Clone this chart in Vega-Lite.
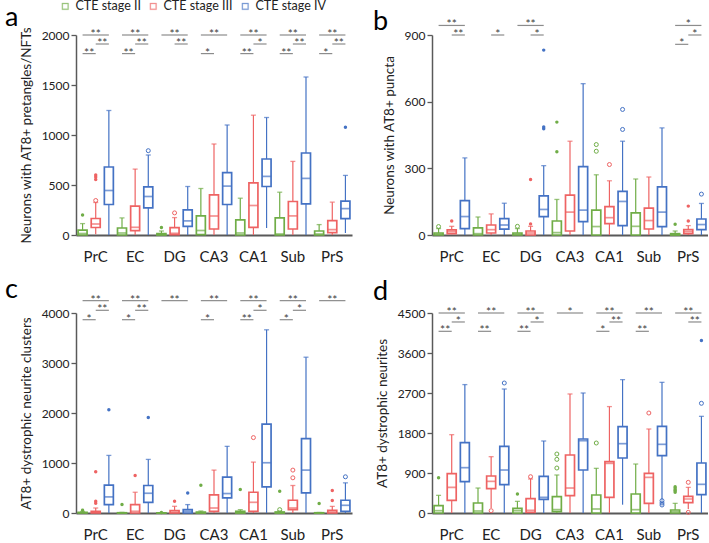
{
"$schema": "https://vega.github.io/schema/vega-lite/v6.json",
"padding": {"left": 5, "top": 0, "right": 0, "bottom": 0},
"bounds": "flush",
"columns": 2,
"spacing": {"row": 78, "column": 80},
"resolve": {"scale": {"stroke": "independent", "color": "independent"}, "legend": {"stroke": "independent", "color": "independent"}},
"config": {
  "font": "Lato",
  "view": {"stroke": null},
  "axisY": {"domainColor": "#595959", "domainWidth": 1.5, "tickColor": "#595959", "tickSize": 5, "tickWidth": 1.3, "labelFontSize": 12, "labelColor": "#222222", "titleFontSize": 13.5, "titleFontWeight": "normal", "titleColor": "#222222", "grid": false, "titlePadding": 8, "labelOverlap": false, "format": "d", "tickCount": 12},
  "axisX": {"domainColor": "#595959", "domainWidth": 2, "ticks": false, "labelFontSize": 15, "labelPadding": 14, "labelAngle": 0, "labelColor": "#222222", "grid": false, "labelOverlap": false},
  "title": {"fontSize": 27, "fontWeight": "normal", "anchor": "start", "frame": "group", "color": "#000000", "baseline": "alphabetic"}
},
"datasets": {
"boxes": [
{"p":"a","g":"PrC|II","s":"II","lo":0,"q1":0,"md":15,"q3":48,"hi":114},
{"p":"a","g":"PrC|III","s":"III","lo":8,"q1":75,"md":110,"q3":165,"hi":325},
{"p":"a","g":"PrC|IV","s":"IV","lo":0,"q1":305,"md":445,"q3":680,"hi":1245},
{"p":"a","g":"EC|II","s":"II","lo":0,"q1":0,"md":20,"q3":70,"hi":171},
{"p":"a","g":"EC|III","s":"III","lo":0,"q1":43,"md":77,"q3":288,"hi":659},
{"p":"a","g":"EC|IV","s":"IV","lo":0,"q1":272,"md":385,"q3":482,"hi":800},
{"p":"a","g":"DG|II","s":"II","lo":0,"q1":0,"md":3,"q3":14,"hi":40},
{"p":"a","g":"DG|III","s":"III","lo":0,"q1":3,"md":17,"q3":74,"hi":174},
{"p":"a","g":"DG|IV","s":"IV","lo":0,"q1":87,"md":141,"q3":251,"hi":485},
{"p":"a","g":"CA3|II","s":"II","lo":0,"q1":3,"md":45,"q3":191,"hi":465},
{"p":"a","g":"CA3|III","s":"III","lo":0,"q1":60,"md":190,"q3":402,"hi":910},
{"p":"a","g":"CA3|IV","s":"IV","lo":0,"q1":305,"md":489,"q3":623,"hi":1100},
{"p":"a","g":"CA1|II","s":"II","lo":0,"q1":0,"md":20,"q3":151,"hi":368},
{"p":"a","g":"CA1|III","s":"III","lo":0,"q1":77,"md":295,"q3":522,"hi":1198},
{"p":"a","g":"CA1|IV","s":"IV","lo":70,"q1":485,"md":586,"q3":760,"hi":1175},
{"p":"a","g":"Sub|II","s":"II","lo":0,"q1":0,"md":10,"q3":171,"hi":428},
{"p":"a","g":"Sub|III","s":"III","lo":0,"q1":60,"md":191,"q3":335,"hi":736},
{"p":"a","g":"Sub|IV","s":"IV","lo":0,"q1":311,"md":566,"q3":820,"hi":1580},
{"p":"a","g":"PrS|II","s":"II","lo":0,"q1":0,"md":10,"q3":40,"hi":104},
{"p":"a","g":"PrS|III","s":"III","lo":0,"q1":23,"md":54,"q3":144,"hi":328},
{"p":"a","g":"PrS|IV","s":"IV","lo":20,"q1":164,"md":264,"q3":338,"hi":596},
{"p":"b","g":"PrC|II","s":"II","lo":0,"q1":0,"md":4,"q3":9,"hi":29},
{"p":"b","g":"PrC|III","s":"III","lo":3,"q1":6,"md":15,"q3":23,"hi":39},
{"p":"b","g":"PrC|IV","s":"IV","lo":0,"q1":29,"md":83,"q3":155,"hi":347},
{"p":"b","g":"EC|II","s":"II","lo":0,"q1":0,"md":6,"q3":32,"hi":81},
{"p":"b","g":"EC|III","s":"III","lo":0,"q1":9,"md":24,"q3":45,"hi":95},
{"p":"b","g":"EC|IV","s":"IV","lo":0,"q1":26,"md":45,"q3":74,"hi":143},
{"p":"b","g":"DG|II","s":"II","lo":0,"q1":0,"md":4,"q3":9,"hi":29},
{"p":"b","g":"DG|III","s":"III","lo":0,"q1":0,"md":9,"q3":18,"hi":39},
{"p":"b","g":"DG|IV","s":"IV","lo":0,"q1":83,"md":115,"q3":176,"hi":312},
{"p":"b","g":"CA3|II","s":"II","lo":0,"q1":0,"md":11,"q3":63,"hi":160},
{"p":"b","g":"CA3|III","s":"III","lo":0,"q1":18,"md":103,"q3":179,"hi":422},
{"p":"b","g":"CA3|IV","s":"IV","lo":0,"q1":60,"md":112,"q3":308,"hi":681},
{"p":"b","g":"CA1|II","s":"II","lo":0,"q1":0,"md":38,"q3":112,"hi":271},
{"p":"b","g":"CA1|III","s":"III","lo":0,"q1":51,"md":78,"q3":128,"hi":244},
{"p":"b","g":"CA1|IV","s":"IV","lo":0,"q1":42,"md":151,"q3":196,"hi":422},
{"p":"b","g":"Sub|II","s":"II","lo":0,"q1":0,"md":39,"q3":100,"hi":252},
{"p":"b","g":"Sub|III","s":"III","lo":0,"q1":27,"md":65,"q3":121,"hi":261},
{"p":"b","g":"Sub|IV","s":"IV","lo":0,"q1":38,"md":103,"q3":217,"hi":482},
{"p":"b","g":"PrS|II","s":"II","lo":0,"q1":0,"md":2,"q3":6,"hi":18},
{"p":"b","g":"PrS|III","s":"III","lo":0,"q1":6,"md":15,"q3":24,"hi":42},
{"p":"b","g":"PrS|IV","s":"IV","lo":0,"q1":24,"md":47,"q3":72,"hi":142},
{"p":"c","g":"PrC|II","s":"II","lo":0,"q1":0,"md":3,"q3":13,"hi":30},
{"p":"c","g":"PrC|III","s":"III","lo":0,"q1":0,"md":13,"q3":34,"hi":100},
{"p":"c","g":"PrC|IV","s":"IV","lo":0,"q1":168,"md":322,"q3":556,"hi":1152},
{"p":"c","g":"EC|II","s":"II","lo":0,"q1":0,"md":0,"q3":5,"hi":13},
{"p":"c","g":"EC|III","s":"III","lo":0,"q1":0,"md":34,"q3":168,"hi":415},
{"p":"c","g":"EC|IV","s":"IV","lo":0,"q1":214,"md":395,"q3":550,"hi":1072},
{"p":"c","g":"DG|II","s":"II","lo":0,"q1":0,"md":0,"q3":3,"hi":8},
{"p":"c","g":"DG|III","s":"III","lo":0,"q1":0,"md":13,"q3":47,"hi":134},
{"p":"c","g":"DG|IV","s":"IV","lo":0,"q1":0,"md":34,"q3":67,"hi":168},
{"p":"c","g":"CA3|II","s":"II","lo":0,"q1":0,"md":5,"q3":20,"hi":40},
{"p":"c","g":"CA3|III","s":"III","lo":0,"q1":34,"md":100,"q3":362,"hi":858},
{"p":"c","g":"CA3|IV","s":"IV","lo":0,"q1":302,"md":389,"q3":717,"hi":1333},
{"p":"c","g":"CA1|II","s":"II","lo":0,"q1":0,"md":10,"q3":34,"hi":67},
{"p":"c","g":"CA1|III","s":"III","lo":0,"q1":34,"md":214,"q3":415,"hi":1018},
{"p":"c","g":"CA1|IV","s":"IV","lo":0,"q1":523,"md":1005,"q3":1776,"hi":3664},
{"p":"c","g":"Sub|II","s":"II","lo":0,"q1":0,"md":5,"q3":20,"hi":40},
{"p":"c","g":"Sub|III","s":"III","lo":0,"q1":67,"md":100,"q3":255,"hi":550},
{"p":"c","g":"Sub|IV","s":"IV","lo":0,"q1":402,"md":858,"q3":1487,"hi":3116},
{"p":"c","g":"PrS|II","s":"II","lo":0,"q1":0,"md":0,"q3":5,"hi":10},
{"p":"c","g":"PrS|III","s":"III","lo":0,"q1":0,"md":20,"q3":54,"hi":134},
{"p":"c","g":"PrS|IV","s":"IV","lo":0,"q1":34,"md":154,"q3":255,"hi":603},
{"p":"d","g":"PrC|II","s":"II","lo":0,"q1":0,"md":52,"q3":165,"hi":397},
{"p":"d","g":"PrC|III","s":"III","lo":0,"q1":285,"md":577,"q3":885,"hi":1762},
{"p":"d","g":"PrC|IV","s":"IV","lo":0,"q1":705,"md":1020,"q3":1582,"hi":2889},
{"p":"d","g":"EC|II","s":"II","lo":0,"q1":0,"md":45,"q3":225,"hi":562},
{"p":"d","g":"EC|III","s":"III","lo":112,"q1":547,"md":712,"q3":832,"hi":1267},
{"p":"d","g":"EC|IV","s":"IV","lo":0,"q1":637,"md":967,"q3":1500,"hi":2790},
{"p":"d","g":"DG|II","s":"II","lo":0,"q1":0,"md":52,"q3":105,"hi":262},
{"p":"d","g":"DG|III","s":"III","lo":0,"q1":15,"md":60,"q3":322,"hi":765},
{"p":"d","g":"DG|IV","s":"IV","lo":0,"q1":307,"md":352,"q3":825,"hi":1620},
{"p":"d","g":"CA3|II","s":"II","lo":0,"q1":30,"md":75,"q3":367,"hi":855},
{"p":"d","g":"CA3|III","s":"III","lo":0,"q1":390,"md":562,"q3":1305,"hi":2678},
{"p":"d","g":"CA3|IV","s":"IV","lo":0,"q1":967,"md":1627,"q3":1665,"hi":2700},
{"p":"d","g":"CA1|II","s":"II","lo":0,"q1":0,"md":90,"q3":405,"hi":1005},
{"p":"d","g":"CA1|III","s":"III","lo":0,"q1":352,"md":1117,"q3":1155,"hi":2394},
{"p":"d","g":"CA1|IV","s":"IV","lo":187,"q1":1237,"md":1560,"q3":1942,"hi":3001},
{"p":"d","g":"Sub|II","s":"II","lo":0,"q1":0,"md":75,"q3":427,"hi":1102},
{"p":"d","g":"Sub|III","s":"III","lo":0,"q1":217,"md":802,"q3":892,"hi":1890},
{"p":"d","g":"Sub|IV","s":"IV","lo":300,"q1":1290,"md":1545,"q3":1950,"hi":2940},
{"p":"d","g":"PrS|II","s":"II","lo":0,"q1":0,"md":30,"q3":67,"hi":217},
{"p":"d","g":"PrS|III","s":"III","lo":90,"q1":232,"md":315,"q3":375,"hi":577},
{"p":"d","g":"PrS|IV","s":"IV","lo":0,"q1":412,"md":645,"q3":1125,"hi":2175}
],
"outliers": [
{"p":"a","g":"PrC|II","s":"II","v":200,"k":"f"},
{"p":"a","g":"PrC|III","s":"III","v":345,"k":"o"},
{"p":"a","g":"PrC|III","s":"III","v":556,"k":"f"},
{"p":"a","g":"PrC|III","s":"III","v":579,"k":"f"},
{"p":"a","g":"PrC|III","s":"III","v":600,"k":"f"},
{"p":"a","g":"EC|IV","s":"IV","v":843,"k":"o"},
{"p":"a","g":"DG|II","s":"II","v":74,"k":"f"},
{"p":"a","g":"DG|III","s":"III","v":221,"k":"o"},
{"p":"a","g":"PrS|IV","s":"IV","v":1077,"k":"f"},
{"p":"b","g":"PrC|II","s":"II","v":38,"k":"o"},
{"p":"b","g":"PrC|III","s":"III","v":63,"k":"f"},
{"p":"b","g":"DG|II","s":"II","v":39,"k":"o"},
{"p":"b","g":"DG|III","s":"III","v":50,"k":"f"},
{"p":"b","g":"DG|III","s":"III","v":250,"k":"f"},
{"p":"b","g":"DG|IV","s":"IV","v":478,"k":"f"},
{"p":"b","g":"DG|IV","s":"IV","v":486,"k":"f"},
{"p":"b","g":"DG|IV","s":"IV","v":832,"k":"f"},
{"p":"b","g":"CA3|II","s":"II","v":375,"k":"f"},
{"p":"b","g":"CA3|II","s":"II","v":508,"k":"f"},
{"p":"b","g":"CA1|II","s":"II","v":377,"k":"o"},
{"p":"b","g":"CA1|II","s":"II","v":407,"k":"o"},
{"p":"b","g":"CA1|III","s":"III","v":317,"k":"o"},
{"p":"b","g":"CA1|IV","s":"IV","v":475,"k":"o"},
{"p":"b","g":"CA1|IV","s":"IV","v":565,"k":"o"},
{"p":"b","g":"PrS|II","s":"II","v":48,"k":"f"},
{"p":"b","g":"PrS|III","s":"III","v":63,"k":"f"},
{"p":"b","g":"PrS|III","s":"III","v":130,"k":"f"},
{"p":"b","g":"PrS|IV","s":"IV","v":184,"k":"o"},
{"p":"c","g":"PrC|II","s":"II","v":54,"k":"f"},
{"p":"c","g":"PrC|III","s":"III","v":194,"k":"f"},
{"p":"c","g":"PrC|III","s":"III","v":235,"k":"f"},
{"p":"c","g":"PrC|III","s":"III","v":824,"k":"f"},
{"p":"c","g":"PrC|IV","s":"IV","v":2064,"k":"f"},
{"p":"c","g":"EC|II","s":"II","v":168,"k":"f"},
{"p":"c","g":"EC|III","s":"III","v":750,"k":"f"},
{"p":"c","g":"EC|IV","s":"IV","v":1910,"k":"f"},
{"p":"c","g":"DG|II","s":"II","v":12,"k":"f"},
{"p":"c","g":"DG|III","s":"III","v":235,"k":"f"},
{"p":"c","g":"DG|IV","s":"IV","v":402,"k":"f"},
{"p":"c","g":"CA3|II","s":"II","v":556,"k":"f"},
{"p":"c","g":"CA1|II","s":"II","v":469,"k":"f"},
{"p":"c","g":"CA1|III","s":"III","v":1508,"k":"o"},
{"p":"c","g":"Sub|II","s":"II","v":67,"k":"o"},
{"p":"c","g":"Sub|II","s":"II","v":436,"k":"f"},
{"p":"c","g":"Sub|III","s":"III","v":704,"k":"o"},
{"p":"c","g":"Sub|III","s":"III","v":858,"k":"o"},
{"p":"c","g":"PrS|II","s":"II","v":190,"k":"f"},
{"p":"c","g":"PrS|III","s":"III","v":248,"k":"f"},
{"p":"c","g":"PrS|III","s":"III","v":449,"k":"f"},
{"p":"c","g":"PrS|IV","s":"IV","v":724,"k":"o"},
{"p":"d","g":"PrC|II","s":"II","v":795,"k":"f"},
{"p":"d","g":"EC|III","s":"III","v":52,"k":"o"},
{"p":"d","g":"EC|IV","s":"IV","v":2925,"k":"o"},
{"p":"d","g":"DG|II","s":"II","v":427,"k":"f"},
{"p":"d","g":"DG|III","s":"III","v":817,"k":"o"},
{"p":"d","g":"CA3|II","s":"II","v":1012,"k":"o"},
{"p":"d","g":"CA3|II","s":"II","v":1207,"k":"o"},
{"p":"d","g":"CA3|II","s":"II","v":1327,"k":"o"},
{"p":"d","g":"CA1|II","s":"II","v":1575,"k":"o"},
{"p":"d","g":"Sub|III","s":"III","v":2250,"k":"o"},
{"p":"d","g":"Sub|IV","s":"IV","v":180,"k":"o"},
{"p":"d","g":"Sub|IV","s":"IV","v":225,"k":"o"},
{"p":"d","g":"Sub|IV","s":"IV","v":277,"k":"o"},
{"p":"d","g":"PrS|II","s":"II","v":465,"k":"f"},
{"p":"d","g":"PrS|II","s":"II","v":500,"k":"f"},
{"p":"d","g":"PrS|II","s":"II","v":525,"k":"f"},
{"p":"d","g":"PrS|II","s":"II","v":560,"k":"f"},
{"p":"d","g":"PrS|II","s":"II","v":592,"k":"f"},
{"p":"d","g":"PrS|III","s":"III","v":15,"k":"o"},
{"p":"d","g":"PrS|III","s":"III","v":690,"k":"o"},
{"p":"d","g":"PrS|IV","s":"IV","v":2468,"k":"o"},
{"p":"d","g":"PrS|IV","s":"IV","v":3879,"k":"f"}
],
"brackets": [
{"p":"a","f":"PrC|II","t":"PrC|IV","m":"PrC|III","y":2000,"l":"**"},
{"p":"a","f":"PrC|III","t":"PrC|IV","y":1910,"l":"**"},
{"p":"a","f":"PrC|II","t":"PrC|III","y":1814,"l":"**"},
{"p":"a","f":"EC|II","t":"EC|IV","m":"EC|III","y":2000,"l":"**"},
{"p":"a","f":"EC|III","t":"EC|IV","y":1910,"l":"**"},
{"p":"a","f":"EC|II","t":"EC|III","y":1814,"l":"**"},
{"p":"a","f":"DG|II","t":"DG|IV","m":"DG|III","y":2000,"l":"**"},
{"p":"a","f":"DG|III","t":"DG|IV","y":1910,"l":"**"},
{"p":"a","f":"CA3|II","t":"CA3|IV","m":"CA3|III","y":2000,"l":"**"},
{"p":"a","f":"CA3|II","t":"CA3|III","y":1814,"l":"*"},
{"p":"a","f":"CA1|II","t":"CA1|IV","m":"CA1|III","y":2000,"l":"**"},
{"p":"a","f":"CA1|III","t":"CA1|IV","y":1910,"l":"*"},
{"p":"a","f":"CA1|II","t":"CA1|III","y":1814,"l":"**"},
{"p":"a","f":"Sub|II","t":"Sub|IV","m":"Sub|III","y":2000,"l":"**"},
{"p":"a","f":"Sub|III","t":"Sub|IV","y":1910,"l":"**"},
{"p":"a","f":"Sub|II","t":"Sub|III","y":1814,"l":"**"},
{"p":"a","f":"PrS|II","t":"PrS|IV","m":"PrS|III","y":2000,"l":"**"},
{"p":"a","f":"PrS|III","t":"PrS|IV","y":1910,"l":"**"},
{"p":"a","f":"PrS|II","t":"PrS|III","y":1814,"l":"*"},
{"p":"b","f":"PrC|II","t":"PrC|IV","m":"PrC|III","y":943,"l":"**"},
{"p":"b","f":"PrC|III","t":"PrC|IV","y":900,"l":"**"},
{"p":"b","f":"EC|III","t":"EC|IV","y":900,"l":"*"},
{"p":"b","f":"DG|II","t":"DG|IV","m":"DG|III","y":943,"l":"**"},
{"p":"b","f":"DG|III","t":"DG|IV","y":900,"l":"*"},
{"p":"b","f":"PrS|II","t":"PrS|IV","m":"PrS|III","y":943,"l":"*"},
{"p":"b","f":"PrS|III","t":"PrS|IV","y":900,"l":"*"},
{"p":"b","f":"PrS|II","t":"PrS|III","y":858,"l":"*"},
{"p":"c","f":"PrC|II","t":"PrC|IV","m":"PrC|III","y":4247,"l":"**"},
{"p":"c","f":"PrC|III","t":"PrC|IV","y":4054,"l":"**"},
{"p":"c","f":"PrC|II","t":"PrC|III","y":3866,"l":"*"},
{"p":"c","f":"EC|II","t":"EC|IV","m":"EC|III","y":4247,"l":"**"},
{"p":"c","f":"EC|III","t":"EC|IV","y":4054,"l":"**"},
{"p":"c","f":"EC|II","t":"EC|III","y":3866,"l":"*"},
{"p":"c","f":"DG|II","t":"DG|IV","m":"DG|III","y":4247,"l":"**"},
{"p":"c","f":"CA3|II","t":"CA3|IV","m":"CA3|III","y":4247,"l":"**"},
{"p":"c","f":"CA3|II","t":"CA3|III","y":3866,"l":"*"},
{"p":"c","f":"CA1|II","t":"CA1|IV","m":"CA1|III","y":4247,"l":"**"},
{"p":"c","f":"CA1|III","t":"CA1|IV","y":4054,"l":"*"},
{"p":"c","f":"CA1|II","t":"CA1|III","y":3866,"l":"**"},
{"p":"c","f":"Sub|II","t":"Sub|IV","m":"Sub|III","y":4247,"l":"**"},
{"p":"c","f":"Sub|III","t":"Sub|IV","y":4054,"l":"*"},
{"p":"c","f":"Sub|II","t":"Sub|III","y":3866,"l":"*"},
{"p":"c","f":"PrS|II","t":"PrS|IV","m":"PrS|III","y":4247,"l":"**"},
{"p":"d","f":"PrC|II","t":"PrC|IV","m":"PrC|III","y":4500,"l":"**"},
{"p":"d","f":"PrC|III","t":"PrC|IV","y":4298,"l":"*"},
{"p":"d","f":"PrC|II","t":"PrC|III","y":4088,"l":"**"},
{"p":"d","f":"EC|II","t":"EC|IV","m":"EC|III","y":4500,"l":"**"},
{"p":"d","f":"EC|II","t":"EC|III","y":4088,"l":"**"},
{"p":"d","f":"DG|II","t":"DG|IV","m":"DG|III","y":4500,"l":"**"},
{"p":"d","f":"DG|III","t":"DG|IV","y":4298,"l":"*"},
{"p":"d","f":"DG|II","t":"DG|III","y":4088,"l":"**"},
{"p":"d","f":"CA3|II","t":"CA3|IV","m":"CA3|III","y":4500,"l":"*"},
{"p":"d","f":"CA1|II","t":"CA1|IV","m":"CA1|III","y":4500,"l":"**"},
{"p":"d","f":"CA1|III","t":"CA1|IV","y":4298,"l":"**"},
{"p":"d","f":"CA1|II","t":"CA1|III","y":4088,"l":"*"},
{"p":"d","f":"Sub|II","t":"Sub|IV","m":"Sub|III","y":4500,"l":"**"},
{"p":"d","f":"Sub|II","t":"Sub|III","y":4088,"l":"**"},
{"p":"d","f":"PrS|II","t":"PrS|IV","m":"PrS|III","y":4500,"l":"**"},
{"p":"d","f":"PrS|III","t":"PrS|IV","y":4298,"l":"**"}
]
},
"concat": [
{"width": 276, "height": 200,
 "title": {"text": "a", "dx": -71, "offset": -32},
 "layer": [
  {"data": {"name": "boxes"}, "transform": [{"filter": "datum.p=='a'"}],
   "mark": {"type": "rule", "strokeWidth": 1.2},
   "encoding": {
    "x": {"field": "g", "type": "nominal", "title": null, "scale": {"domain": ["PrC|II","PrC|III","PrC|IV","EC|II","EC|III","EC|IV","DG|II","DG|III","DG|IV","CA3|II","CA3|III","CA3|IV","CA1|II","CA1|III","CA1|IV","Sub|II","Sub|III","Sub|IV","PrS|II","PrS|III","PrS|IV"], "paddingInner": 0, "paddingOuter": 0}, "axis": {"labelExpr": "indexof(datum.value,'|III')>0 ? split(datum.value,'|')[0] : ''"}},
    "y": {"field": "lo", "type": "quantitative", "scale": {"domain": [0, 2000], "nice": false}, "axis": {"values": [0, 500, 1000, 1500, 2000], "tickCount": 12, "labelOverlap": false, "title": "Neurons with AT8+ pretangles/NFTs"}},
    "y2": {"field": "hi"},
    "color": {"field": "s", "type": "nominal", "scale": {"domain": ["II","III","IV"], "range": ["#70AD47","#EE6363","#4472C4"]},
      "legend": {"orient": "none", "legendX": -17, "legendY": -35, "direction": "horizontal", "title": null, "symbolType": "M-1,-1H1V1H-1Z M-0.72,-0.72V0.72H0.72V-0.72Z", "symbolSize": 45, "symbolStrokeWidth": 0.3, "labelFontSize": 12.5, "labelColor": "#222222", "labelOffset": 4, "columnPadding": 6, "labelExpr": "'CTE stage ' + datum.label"}}}},
  {"data": {"name": "boxes"}, "transform": [{"filter": "datum.p=='a'"}],
   "mark": {"type": "tick", "thickness": 1.3, "size": 5},
   "encoding": {"x": {"field": "g", "type": "nominal"}, "y": {"field": "hi", "type": "quantitative"},
    "color": {"field": "s", "type": "nominal", "scale": {"domain": ["II","III","IV"], "range": ["#70AD47","#EE6363","#4472C4"]}}}},
  {"data": {"name": "boxes"}, "transform": [{"filter": "datum.p=='a'"}],
   "mark": {"type": "bar", "size": 9, "fill": "white", "strokeWidth": 1.7},
   "encoding": {"x": {"field": "g", "type": "nominal"}, "y": {"field": "q1", "type": "quantitative"}, "y2": {"field": "q3"},
    "stroke": {"field": "s", "type": "nominal", "scale": {"domain": ["II","III","IV"], "range": ["#70AD47","#EE6363","#4472C4"]}}}},
  {"data": {"name": "boxes"}, "transform": [{"filter": "datum.p=='a'"}],
   "mark": {"type": "tick", "thickness": 1.7, "size": 9},
   "encoding": {"x": {"field": "g", "type": "nominal"}, "y": {"field": "md", "type": "quantitative"},
    "color": {"field": "s", "type": "nominal", "scale": {"domain": ["II","III","IV"], "range": ["#70AD47","#EE6363","#4472C4"]}}}},
  {"data": {"name": "outliers"}, "transform": [{"filter": "datum.p=='a' && datum.k=='f'"}],
   "mark": {"type": "point", "filled": true, "size": 12, "opacity": 1},
   "encoding": {"x": {"field": "g", "type": "nominal"}, "y": {"field": "v", "type": "quantitative"},
    "color": {"field": "s", "type": "nominal", "scale": {"domain": ["II","III","IV"], "range": ["#70AD47","#EE6363","#4472C4"]}}}},
  {"data": {"name": "outliers"}, "transform": [{"filter": "datum.p=='a' && datum.k=='o'"}],
   "mark": {"type": "point", "filled": false, "size": 16, "strokeWidth": 1, "opacity": 1},
   "encoding": {"x": {"field": "g", "type": "nominal"}, "y": {"field": "v", "type": "quantitative"},
    "color": {"field": "s", "type": "nominal", "scale": {"domain": ["II","III","IV"], "range": ["#70AD47","#EE6363","#4472C4"]}}}},
  {"data": {"name": "brackets"}, "transform": [{"filter": "datum.p=='a'"}],
   "mark": {"type": "rule", "color": "#8c8c8c", "strokeWidth": 1.2},
   "encoding": {"x": {"field": "f", "type": "nominal"}, "x2": {"field": "t"}, "y": {"field": "y", "type": "quantitative"}}},
  {"data": {"name": "brackets"}, "transform": [{"filter": "datum.p=='a' && datum.m != null"}],
   "mark": {"type": "text", "fontSize": 12, "color": "#404040", "baseline": "alphabetic", "dy": 3},
   "encoding": {"x": {"field": "m", "type": "nominal"}, "y": {"field": "y", "type": "quantitative"}, "text": {"field": "l"}}},
  {"data": {"name": "brackets"}, "transform": [{"filter": "datum.p=='a' && datum.m == null"}],
   "mark": {"type": "text", "fontSize": 12, "color": "#404040", "baseline": "alphabetic", "dy": 3},
   "encoding": {"x": {"field": "f", "type": "nominal", "bandPosition": 1}, "y": {"field": "y", "type": "quantitative"}, "text": {"field": "l"}}}
 ]},
{"width": 276, "height": 200,
 "title": {"text": "b", "dx": -59, "offset": -18},
 "layer": [
  {"data": {"name": "boxes"}, "transform": [{"filter": "datum.p=='b'"}],
   "mark": {"type": "rule", "strokeWidth": 1.2},
   "encoding": {
    "x": {"field": "g", "type": "nominal", "title": null, "scale": {"domain": ["PrC|II","PrC|III","PrC|IV","EC|II","EC|III","EC|IV","DG|II","DG|III","DG|IV","CA3|II","CA3|III","CA3|IV","CA1|II","CA1|III","CA1|IV","Sub|II","Sub|III","Sub|IV","PrS|II","PrS|III","PrS|IV"], "paddingInner": 0, "paddingOuter": 0}, "axis": {"labelExpr": "indexof(datum.value,'|III')>0 ? split(datum.value,'|')[0] : ''"}},
    "y": {"field": "lo", "type": "quantitative", "scale": {"domain": [0, 900], "nice": false}, "axis": {"values": [0, 300, 600, 900], "tickCount": 12, "labelOverlap": false, "title": "Neurons with AT8+ puncta"}},
    "y2": {"field": "hi"},
    "color": {"field": "s", "type": "nominal", "scale": {"domain": ["II","III","IV"], "range": ["#70AD47","#EE6363","#4472C4"]}, "legend": null}}},
  {"data": {"name": "boxes"}, "transform": [{"filter": "datum.p=='b'"}],
   "mark": {"type": "tick", "thickness": 1.3, "size": 5},
   "encoding": {"x": {"field": "g", "type": "nominal"}, "y": {"field": "hi", "type": "quantitative"},
    "color": {"field": "s", "type": "nominal", "scale": {"domain": ["II","III","IV"], "range": ["#70AD47","#EE6363","#4472C4"]}, "legend": null}}},
  {"data": {"name": "boxes"}, "transform": [{"filter": "datum.p=='b'"}],
   "mark": {"type": "bar", "size": 9, "fill": "white", "strokeWidth": 1.7},
   "encoding": {"x": {"field": "g", "type": "nominal"}, "y": {"field": "q1", "type": "quantitative"}, "y2": {"field": "q3"},
    "stroke": {"field": "s", "type": "nominal", "scale": {"domain": ["II","III","IV"], "range": ["#70AD47","#EE6363","#4472C4"]}, "legend": null}}},
  {"data": {"name": "boxes"}, "transform": [{"filter": "datum.p=='b'"}],
   "mark": {"type": "tick", "thickness": 1.7, "size": 9},
   "encoding": {"x": {"field": "g", "type": "nominal"}, "y": {"field": "md", "type": "quantitative"},
    "color": {"field": "s", "type": "nominal", "scale": {"domain": ["II","III","IV"], "range": ["#70AD47","#EE6363","#4472C4"]}, "legend": null}}},
  {"data": {"name": "outliers"}, "transform": [{"filter": "datum.p=='b' && datum.k=='f'"}],
   "mark": {"type": "point", "filled": true, "size": 12, "opacity": 1},
   "encoding": {"x": {"field": "g", "type": "nominal"}, "y": {"field": "v", "type": "quantitative"},
    "color": {"field": "s", "type": "nominal", "scale": {"domain": ["II","III","IV"], "range": ["#70AD47","#EE6363","#4472C4"]}, "legend": null}}},
  {"data": {"name": "outliers"}, "transform": [{"filter": "datum.p=='b' && datum.k=='o'"}],
   "mark": {"type": "point", "filled": false, "size": 16, "strokeWidth": 1, "opacity": 1},
   "encoding": {"x": {"field": "g", "type": "nominal"}, "y": {"field": "v", "type": "quantitative"},
    "color": {"field": "s", "type": "nominal", "scale": {"domain": ["II","III","IV"], "range": ["#70AD47","#EE6363","#4472C4"]}, "legend": null}}},
  {"data": {"name": "brackets"}, "transform": [{"filter": "datum.p=='b'"}],
   "mark": {"type": "rule", "color": "#8c8c8c", "strokeWidth": 1.2},
   "encoding": {"x": {"field": "f", "type": "nominal"}, "x2": {"field": "t"}, "y": {"field": "y", "type": "quantitative"}}},
  {"data": {"name": "brackets"}, "transform": [{"filter": "datum.p=='b' && datum.m != null"}],
   "mark": {"type": "text", "fontSize": 12, "color": "#404040", "baseline": "alphabetic", "dy": 3},
   "encoding": {"x": {"field": "m", "type": "nominal"}, "y": {"field": "y", "type": "quantitative"}, "text": {"field": "l"}}},
  {"data": {"name": "brackets"}, "transform": [{"filter": "datum.p=='b' && datum.m == null"}],
   "mark": {"type": "text", "fontSize": 12, "color": "#404040", "baseline": "alphabetic", "dy": 3},
   "encoding": {"x": {"field": "f", "type": "nominal", "bandPosition": 1}, "y": {"field": "y", "type": "quantitative"}, "text": {"field": "l"}}}
 ]},
{"width": 276, "height": 200,
 "title": {"text": "c", "dx": -71, "offset": -10},
 "layer": [
  {"data": {"name": "boxes"}, "transform": [{"filter": "datum.p=='c'"}],
   "mark": {"type": "rule", "strokeWidth": 1.2},
   "encoding": {
    "x": {"field": "g", "type": "nominal", "title": null, "scale": {"domain": ["PrC|II","PrC|III","PrC|IV","EC|II","EC|III","EC|IV","DG|II","DG|III","DG|IV","CA3|II","CA3|III","CA3|IV","CA1|II","CA1|III","CA1|IV","Sub|II","Sub|III","Sub|IV","PrS|II","PrS|III","PrS|IV"], "paddingInner": 0, "paddingOuter": 0}, "axis": {"labelExpr": "indexof(datum.value,'|III')>0 ? split(datum.value,'|')[0] : ''"}},
    "y": {"field": "lo", "type": "quantitative", "scale": {"domain": [0, 4000], "nice": false}, "axis": {"values": [0, 1000, 2000, 3000, 4000], "tickCount": 12, "labelOverlap": false, "title": "AT8+ dystrophic neurite clusters"}},
    "y2": {"field": "hi"},
    "color": {"field": "s", "type": "nominal", "scale": {"domain": ["II","III","IV"], "range": ["#70AD47","#EE6363","#4472C4"]}, "legend": null}}},
  {"data": {"name": "boxes"}, "transform": [{"filter": "datum.p=='c'"}],
   "mark": {"type": "tick", "thickness": 1.3, "size": 5},
   "encoding": {"x": {"field": "g", "type": "nominal"}, "y": {"field": "hi", "type": "quantitative"},
    "color": {"field": "s", "type": "nominal", "scale": {"domain": ["II","III","IV"], "range": ["#70AD47","#EE6363","#4472C4"]}, "legend": null}}},
  {"data": {"name": "boxes"}, "transform": [{"filter": "datum.p=='c'"}],
   "mark": {"type": "bar", "size": 9, "fill": "white", "strokeWidth": 1.7},
   "encoding": {"x": {"field": "g", "type": "nominal"}, "y": {"field": "q1", "type": "quantitative"}, "y2": {"field": "q3"},
    "stroke": {"field": "s", "type": "nominal", "scale": {"domain": ["II","III","IV"], "range": ["#70AD47","#EE6363","#4472C4"]}, "legend": null}}},
  {"data": {"name": "boxes"}, "transform": [{"filter": "datum.p=='c'"}],
   "mark": {"type": "tick", "thickness": 1.7, "size": 9},
   "encoding": {"x": {"field": "g", "type": "nominal"}, "y": {"field": "md", "type": "quantitative"},
    "color": {"field": "s", "type": "nominal", "scale": {"domain": ["II","III","IV"], "range": ["#70AD47","#EE6363","#4472C4"]}, "legend": null}}},
  {"data": {"name": "outliers"}, "transform": [{"filter": "datum.p=='c' && datum.k=='f'"}],
   "mark": {"type": "point", "filled": true, "size": 12, "opacity": 1},
   "encoding": {"x": {"field": "g", "type": "nominal"}, "y": {"field": "v", "type": "quantitative"},
    "color": {"field": "s", "type": "nominal", "scale": {"domain": ["II","III","IV"], "range": ["#70AD47","#EE6363","#4472C4"]}, "legend": null}}},
  {"data": {"name": "outliers"}, "transform": [{"filter": "datum.p=='c' && datum.k=='o'"}],
   "mark": {"type": "point", "filled": false, "size": 16, "strokeWidth": 1, "opacity": 1},
   "encoding": {"x": {"field": "g", "type": "nominal"}, "y": {"field": "v", "type": "quantitative"},
    "color": {"field": "s", "type": "nominal", "scale": {"domain": ["II","III","IV"], "range": ["#70AD47","#EE6363","#4472C4"]}, "legend": null}}},
  {"data": {"name": "brackets"}, "transform": [{"filter": "datum.p=='c'"}],
   "mark": {"type": "rule", "color": "#8c8c8c", "strokeWidth": 1.2},
   "encoding": {"x": {"field": "f", "type": "nominal"}, "x2": {"field": "t"}, "y": {"field": "y", "type": "quantitative"}}},
  {"data": {"name": "brackets"}, "transform": [{"filter": "datum.p=='c' && datum.m != null"}],
   "mark": {"type": "text", "fontSize": 12, "color": "#404040", "baseline": "alphabetic", "dy": 3},
   "encoding": {"x": {"field": "m", "type": "nominal"}, "y": {"field": "y", "type": "quantitative"}, "text": {"field": "l"}}},
  {"data": {"name": "brackets"}, "transform": [{"filter": "datum.p=='c' && datum.m == null"}],
   "mark": {"type": "text", "fontSize": 12, "color": "#404040", "baseline": "alphabetic", "dy": 3},
   "encoding": {"x": {"field": "f", "type": "nominal", "bandPosition": 1}, "y": {"field": "y", "type": "quantitative"}, "text": {"field": "l"}}}
 ]},
{"width": 276, "height": 200,
 "title": {"text": "d", "dx": -59, "offset": 0},
 "layer": [
  {"data": {"name": "boxes"}, "transform": [{"filter": "datum.p=='d'"}],
   "mark": {"type": "rule", "strokeWidth": 1.2},
   "encoding": {
    "x": {"field": "g", "type": "nominal", "title": null, "scale": {"domain": ["PrC|II","PrC|III","PrC|IV","EC|II","EC|III","EC|IV","DG|II","DG|III","DG|IV","CA3|II","CA3|III","CA3|IV","CA1|II","CA1|III","CA1|IV","Sub|II","Sub|III","Sub|IV","PrS|II","PrS|III","PrS|IV"], "paddingInner": 0, "paddingOuter": 0}, "axis": {"labelExpr": "indexof(datum.value,'|III')>0 ? split(datum.value,'|')[0] : ''"}},
    "y": {"field": "lo", "type": "quantitative", "scale": {"domain": [0, 4500], "nice": false}, "axis": {"values": [0, 900, 1800, 2700, 3600, 4500], "tickCount": 12, "labelOverlap": false, "title": "AT8+ dystrophic neurites"}},
    "y2": {"field": "hi"},
    "color": {"field": "s", "type": "nominal", "scale": {"domain": ["II","III","IV"], "range": ["#70AD47","#EE6363","#4472C4"]}, "legend": null}}},
  {"data": {"name": "boxes"}, "transform": [{"filter": "datum.p=='d'"}],
   "mark": {"type": "tick", "thickness": 1.3, "size": 5},
   "encoding": {"x": {"field": "g", "type": "nominal"}, "y": {"field": "hi", "type": "quantitative"},
    "color": {"field": "s", "type": "nominal", "scale": {"domain": ["II","III","IV"], "range": ["#70AD47","#EE6363","#4472C4"]}, "legend": null}}},
  {"data": {"name": "boxes"}, "transform": [{"filter": "datum.p=='d'"}],
   "mark": {"type": "bar", "size": 9, "fill": "white", "strokeWidth": 1.7},
   "encoding": {"x": {"field": "g", "type": "nominal"}, "y": {"field": "q1", "type": "quantitative"}, "y2": {"field": "q3"},
    "stroke": {"field": "s", "type": "nominal", "scale": {"domain": ["II","III","IV"], "range": ["#70AD47","#EE6363","#4472C4"]}, "legend": null}}},
  {"data": {"name": "boxes"}, "transform": [{"filter": "datum.p=='d'"}],
   "mark": {"type": "tick", "thickness": 1.7, "size": 9},
   "encoding": {"x": {"field": "g", "type": "nominal"}, "y": {"field": "md", "type": "quantitative"},
    "color": {"field": "s", "type": "nominal", "scale": {"domain": ["II","III","IV"], "range": ["#70AD47","#EE6363","#4472C4"]}, "legend": null}}},
  {"data": {"name": "outliers"}, "transform": [{"filter": "datum.p=='d' && datum.k=='f'"}],
   "mark": {"type": "point", "filled": true, "size": 12, "opacity": 1},
   "encoding": {"x": {"field": "g", "type": "nominal"}, "y": {"field": "v", "type": "quantitative"},
    "color": {"field": "s", "type": "nominal", "scale": {"domain": ["II","III","IV"], "range": ["#70AD47","#EE6363","#4472C4"]}, "legend": null}}},
  {"data": {"name": "outliers"}, "transform": [{"filter": "datum.p=='d' && datum.k=='o'"}],
   "mark": {"type": "point", "filled": false, "size": 16, "strokeWidth": 1, "opacity": 1},
   "encoding": {"x": {"field": "g", "type": "nominal"}, "y": {"field": "v", "type": "quantitative"},
    "color": {"field": "s", "type": "nominal", "scale": {"domain": ["II","III","IV"], "range": ["#70AD47","#EE6363","#4472C4"]}, "legend": null}}},
  {"data": {"name": "brackets"}, "transform": [{"filter": "datum.p=='d'"}],
   "mark": {"type": "rule", "color": "#8c8c8c", "strokeWidth": 1.2},
   "encoding": {"x": {"field": "f", "type": "nominal"}, "x2": {"field": "t"}, "y": {"field": "y", "type": "quantitative"}}},
  {"data": {"name": "brackets"}, "transform": [{"filter": "datum.p=='d' && datum.m != null"}],
   "mark": {"type": "text", "fontSize": 12, "color": "#404040", "baseline": "alphabetic", "dy": 3},
   "encoding": {"x": {"field": "m", "type": "nominal"}, "y": {"field": "y", "type": "quantitative"}, "text": {"field": "l"}}},
  {"data": {"name": "brackets"}, "transform": [{"filter": "datum.p=='d' && datum.m == null"}],
   "mark": {"type": "text", "fontSize": 12, "color": "#404040", "baseline": "alphabetic", "dy": 3},
   "encoding": {"x": {"field": "f", "type": "nominal", "bandPosition": 1}, "y": {"field": "y", "type": "quantitative"}, "text": {"field": "l"}}}
 ]}
]
}
